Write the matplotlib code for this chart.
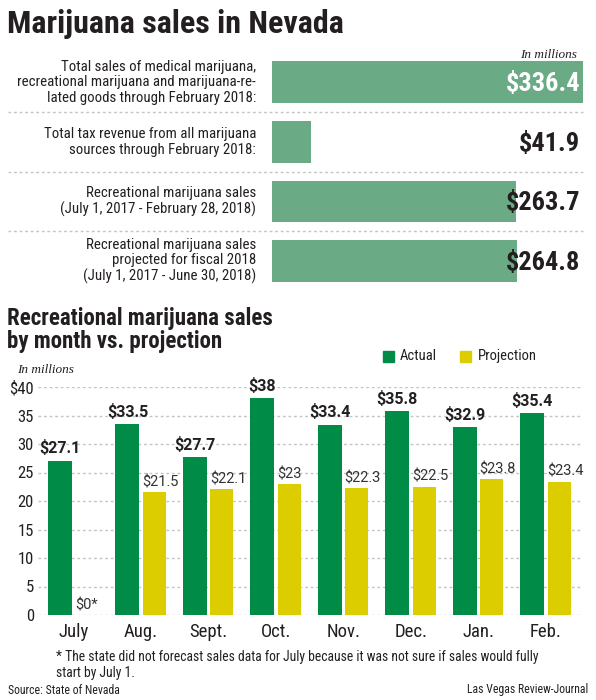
import matplotlib
matplotlib.use("Agg")
import matplotlib.pyplot as plt
from matplotlib import font_manager as fm

avail = {f.name for f in fm.fontManager.ttflist}
def pick(cands):
    for c in cands:
        if c in avail:
            return c
    return "DejaVu Sans"

COND = pick(["Liberation Sans Narrow", "Roboto Condensed", "Open Sans Condensed", "Noto Sans Condensed", "Roboto"])
BOLDF = pick(["Roboto", "Lato", "DejaVu Sans"])
SERIF = pick(["Liberation Serif", "DejaVu Serif"])

# ---------------- data ----------------
summary_labels = [
    "Total sales of medical marijuana,\nrecreational marijuana and marijuana-re-\nlated goods through February 2018:",
    "Total tax revenue from all marijuana\nsources through February 2018:",
    "Recreational marijuana sales\n(July 1, 2017 - February 28, 2018)",
    "Recreational marijuana sales\nprojected for fiscal 2018\n(July 1, 2017 - June 30, 2018)",
]
summary_values = [336.4, 41.9, 263.7, 264.8]

months = ["July", "Aug.", "Sept.", "Oct.", "Nov.", "Dec.", "Jan.", "Feb."]
actual = [27.1, 33.5, 27.7, 38, 33.4, 35.8, 32.9, 35.4]
projection = [0, 21.5, 22.1, 23, 22.3, 22.5, 23.8, 23.4]
projection_labels = ["$0*", "$21.5", "$22.1", "$23", "$22.3", "$22.5", "$23.8", "$23.4"]
yticks = [0, 5, 10, 15, 20, 25, 30, 35, 40]
ytick_labels = ["0", "5", "10", "15", "20", "25", "30", "35", "$40"]

W, H = 596, 700
fig = plt.figure(figsize=(W / 100, H / 100), dpi=100)
fig.patch.set_facecolor("white")

def fx(px):
    return px / W
def fy(py):
    return 1 - py / H

TOPGREEN = "#6aaa84"
GREEN = "#008c46"
YELLOW = "#dccd00"
TXT = "#231f20"
DOT = "#c4c4c4"

# title
fig.text(fx(7), fy(24), "Marijuana sales in Nevada", fontsize=23, fontweight="bold",
         family=COND, color=TXT, ha="left", va="center")

# ---------------- top summary bars ----------------
axL, axR = 272, 583
axT, axB = 52.5, 291
ax1 = fig.add_axes([fx(axL), fy(axB), fx(axR - axL), (axB - axT) / H])
ypos = list(range(len(summary_values)))
ax1.barh(ypos, summary_values, height=0.7, color=TOPGREEN, left=0)
ax1.set_xlim(0, max(summary_values))
ax1.set_ylim(3.5, -0.5)
ax1.axis("off")
span = axR - axL
for i, (lab, v) in enumerate(zip(summary_labels, summary_values)):
    ax1.text((256 - axL) / span, i, lab, transform=ax1.get_yaxis_transform(),
             ha="right", va="center", fontsize=10.7, family=COND, color=TXT,
             linespacing=1.12)
    col = "white" if i == 0 else TXT
    ax1.text((580 - axL) / span, i + 0.03, f"${v}", transform=ax1.get_yaxis_transform(),
             ha="right", va="center", fontsize=19, fontweight="bold", family=COND,
             color=col)
for yy in [0.5, 1.5, 2.5]:
    ax1.axhline(yy, xmin=(8 - axL) / span, xmax=(586 - axL) / span, color=DOT,
                lw=1, ls=(0, (2, 2)), clip_on=False)
fig.text(fx(577), fy(55), "In millions", fontsize=9.5, style="italic", family=SERIF,
         color=TXT, ha="right", va="center")

# ---------------- bottom chart ----------------
fig.text(fx(7), fy(330), "Recreational marijuana sales\nby month vs. projection", fontsize=16.5,
         fontweight="bold", family=COND, color=TXT, ha="left", va="center", linespacing=1.05)

# legend
fig.patches.append(plt.Rectangle((fx(383), fy(362)), fx(11), 11 / H, color=GREEN,
                                 transform=fig.transFigure, figure=fig))
fig.text(fx(400), fy(356.5), "Actual", fontsize=10.5, family=COND, color=TXT, ha="left", va="center")
fig.patches.append(plt.Rectangle((fx(460), fy(362)), fx(11), 11 / H, color=YELLOW,
                                 transform=fig.transFigure, figure=fig))
fig.text(fx(478), fy(356.5), "Projection", fontsize=10.5, family=COND, color=TXT, ha="left", va="center")

fig.text(fx(17), fy(370), "In millions", fontsize=9.5, style="italic", family=SERIF,
         color=TXT, ha="left", va="center")

bL, bR, bT, bB = 38, 582, 387, 615
ax2 = fig.add_axes([fx(bL), fy(bB), fx(bR - bL), (bB - bT) / H])
ax2.set_facecolor("none")
x = list(range(len(months)))
pxu = (545.5 - 73.5) / 7
bw = 24 / pxu
off = 13.5 / pxu
xg = [i - off for i in x]
xy = [i + off for i in x]
ax2.bar(xg, actual, width=bw, color=GREEN, zorder=3)
ax2.bar(xy, projection, width=23 / pxu, color=YELLOW, zorder=3)
ax2.set_xlim(-(73.5 - bL) / pxu, 7 + (bR - 545.5) / pxu)
ax2.set_ylim(0, 40)
for s in ax2.spines.values():
    s.set_visible(False)
ax2.set_yticks(yticks)
ax2.set_yticklabels(ytick_labels)
ax2.yaxis.grid(True, color=DOT, lw=1, ls=(0, (2, 2)), zorder=0)
ax2.set_axisbelow(True)
ax2.tick_params(axis="y", length=0, pad=3, labelsize=12, labelcolor=TXT)
for t in ax2.get_yticklabels():
    t.set_family(COND)
ax2.set_xticks(x)
ax2.set_xticklabels(months)
ax2.tick_params(axis="x", length=0, pad=6, labelsize=13.5, labelcolor=TXT)
for t in ax2.get_xticklabels():
    t.set_family(COND)

for xi, v in zip(xg, actual):
    ax2.annotate(f"${v:g}", (xi, v), xytext=(0, 3), textcoords="offset points",
                 ha="center", va="bottom", fontsize=11.5, fontweight="bold",
                 family=BOLDF, color=TXT, clip_on=False)
for xi, v, lab in zip(xy, projection, projection_labels):
    ax2.annotate(lab, (xi - bw / 2, v), xytext=(0, 2), textcoords="offset points",
                 ha="left", va="bottom", fontsize=10.5, family=BOLDF, color="#333333",
                 clip_on=False)

# footnotes
fig.text(fx(56), fy(665), "* The state did not forecast sales data for July because it was not sure if sales would fully\nstart by July 1.",
         fontsize=9.8, family=COND, color=TXT, ha="left", va="center", linespacing=1.2)
fig.text(fx(8), fy(690), "Source: State of Nevada", fontsize=8.5, family=COND, color=TXT,
         ha="left", va="center")
fig.text(fx(588), fy(690), "Las Vegas Review-Journal", fontsize=8.5, family=COND, color=TXT,
         ha="right", va="center")

fig.savefig("out.png", dpi=100, facecolor="white")
